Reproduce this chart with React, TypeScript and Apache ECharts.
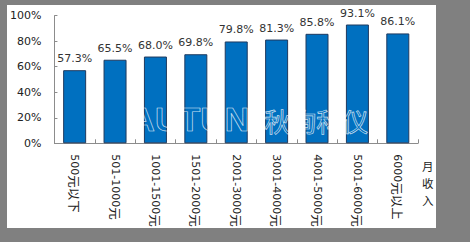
import React, { useEffect, useRef } from "react";
import * as echarts from "echarts";

const categories = [
  "500元以下",
  "501-1000元",
  "1001-1500元",
  "1501-2000元",
  "2001-3000元",
  "3001-4000元",
  "4001-5000元",
  "5001-6000元",
  "6000元以上",
];
const values = [57.3, 65.5, 68.0, 69.8, 79.8, 81.3, 85.8, 93.1, 86.1];
const yTicks = [0, 20, 40, 60, 80, 100];
const axisName = "月收入";

const FONT = "'DejaVu Sans', 'Noto Sans CJK SC', sans-serif";

function richLabel(s: string) {
  return s.replace(/([\u4e00-\u9fff]+)/g, "{c|$1}").replace(/(^|\})([^{}]+?)(?=\{|$)/g, "$1{d|$2}");
}

export default function App() {
  const ref = useRef<HTMLDivElement>(null);
  useEffect(() => {
    if (!ref.current) return;
    const chart = echarts.init(ref.current, null, { renderer: "svg" });
    chart.setOption({
      animation: false,
      grid: { left: 44, top: 10.7, width: 367, height: 127.6 },
      xAxis: {
        type: "category",
        data: categories,
        axisLine: { show: true, lineStyle: { color: "#8c8c8c", width: 1 } },
        axisTick: { show: true, inside: true, length: 4, lineStyle: { color: "#8c8c8c" } },
        axisLabel: {
          rotate: -90,
          margin: 11,
          interval: 0,
          fontSize: 11,
          color: "#222",
          fontFamily: FONT,
          formatter: (v: string) => richLabel(v),
          rich: {
            d: { fontSize: 11, color: "#222", fontFamily: "'DejaVu Sans', sans-serif" },
            c: { fontSize: 12.5, color: "#222", fontFamily: "'Noto Sans CJK SC', sans-serif" },
          },
        },
      },
      yAxis: {
        type: "value",
        min: yTicks[0],
        max: yTicks[yTicks.length - 1],
        interval: 20,
        splitLine: { show: false },
        axisLine: { show: true, lineStyle: { color: "#8c8c8c", width: 1 } },
        axisTick: { show: true, inside: true, length: 3, lineStyle: { color: "#8c8c8c" } },
        axisLabel: {
          formatter: "{value}%",
          margin: 13,
          fontSize: 11,
          color: "#222",
          fontFamily: FONT,
        },
      },
      series: [
        {
          type: "bar",
          data: values,
          barWidth: 23,
          itemStyle: { color: "#0070c0", borderColor: "#1f3a5f", borderWidth: 1 },
          label: {
            show: true,
            position: "top",
            distance: 6,
            formatter: (p: any) => p.value.toFixed(1) + "%",
            fontSize: 11,
            color: "#333",
            fontFamily: FONT,
          },
          z: 2,
        },
      ],
      graphic: [
        {
          type: "text",
          left: 415,
          top: 152,
          z: 10,
          style: {
            text: axisName.split("").join("\n"),
            fontSize: 11.5,
            lineHeight: 17,
            fill: "#222",
            fontFamily: "'Noto Sans CJK SC', sans-serif",
          },
        },
        {
          type: "text",
          left: 123,
          top: 97,
          z: 10,
          silent: true,
          style: {
            text: "AUTUN",
            fontSize: 34,
            fontWeight: "bold",
            fontFamily: "'Liberation Sans', sans-serif",
            fill: "none",
            stroke: "rgba(255,255,255,0.8)",
            lineWidth: 0.7,
          },
        },
        {
          type: "text",
          left: 257,
          top: 102,
          z: 10,
          silent: true,
          style: {
            text: "秋询科仪",
            fontSize: 26,
            fontFamily: "'Noto Sans CJK SC', sans-serif",
            fill: "none",
            stroke: "rgba(255,255,255,0.8)",
            lineWidth: 0.7,
          },
        },
      ],
    });
    return () => chart.dispose();
  }, []);

  return (
    <div style={{ position: "fixed", left: 0, top: 0, width: 470, height: 242, background: "#808080" }}>
      <div
        style={{
          position: "absolute",
          left: 7,
          top: 5,
          width: 429,
          height: 223,
          background: "#ffffff",
          overflow: "hidden",
        }}
      >
        <div ref={ref} style={{ width: 429, height: 260 }} />
      </div>
    </div>
  );
}
